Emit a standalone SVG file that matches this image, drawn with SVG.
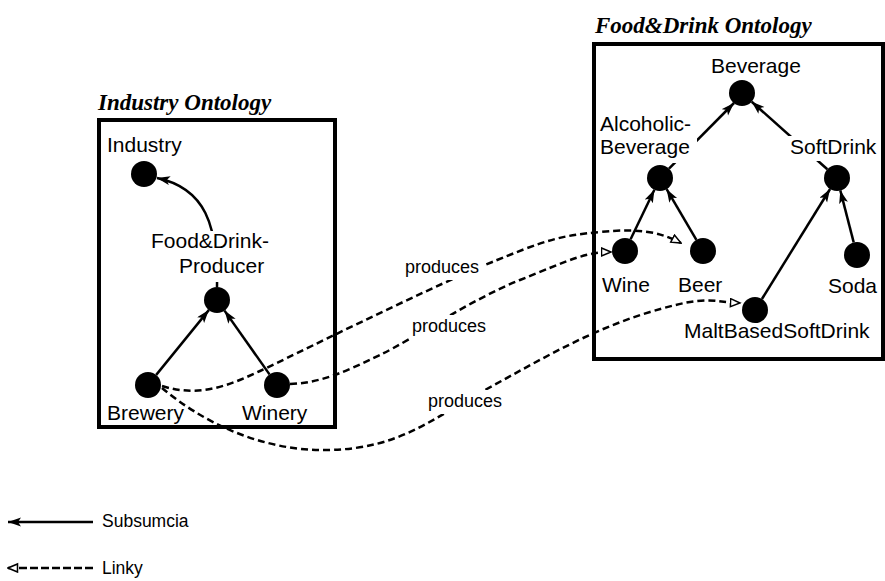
<svg xmlns="http://www.w3.org/2000/svg" width="885" height="581" viewBox="0 0 885 581">
<style>
.box{fill:none;stroke:#000;stroke-width:4}
.title{font-family:"Liberation Serif","Times New Roman",serif;font-weight:bold;font-style:italic;font-size:23px;fill:#000}
.lbl{font-family:"Liberation Sans",Arial,sans-serif;font-size:21px;fill:#000}
.plbl{font-family:"Liberation Sans",Arial,sans-serif;font-size:18px;fill:#000}
.leg{font-family:"Liberation Sans",Arial,sans-serif;font-size:17.5px;fill:#000}
.node{fill:#000}
.bg{fill:#fff}
.sub{fill:none;stroke:#000;stroke-width:2.5;marker-end:url(#solid)}
.link{fill:none;stroke:#000;stroke-width:2.5;stroke-dasharray:7 4;marker-end:url(#open)}
</style>
<defs>
<marker id="solid" markerUnits="userSpaceOnUse" markerWidth="14" markerHeight="10" refX="13" refY="4.5" orient="auto">
<path d="M0,0 L13,4.5 L0,9 L3,4.5 z" fill="#000"/>
</marker>
<marker id="open" markerUnits="userSpaceOnUse" markerWidth="12" markerHeight="11" refX="10.5" refY="5" orient="auto">
<path d="M1,1 L10.5,5 L1,9 z" fill="#fff" stroke="#000" stroke-width="1.5"/>
</marker>
</defs>
<rect width="885" height="581" fill="#fff"/>

<g id="industry-ontology">
<rect class="box" x="99" y="120" width="236" height="307"/>
<text class="title" x="98" y="110">Industry Ontology</text>
</g>
<g id="fooddrink-ontology">
<rect class="box" x="594" y="44" width="289" height="315"/>
<text class="title" x="595" y="33">Food&amp;Drink Ontology</text>
</g>

<g id="connectors">
<path class="sub" d="M217,287 C218,225 205,188 157,178"/>
<path class="sub" d="M156.2,374.9 L208.8,310.1"/>
<path class="sub" d="M269.5,374.4 L224.5,310.6"/>
<path class="sub" d="M669,168.6 L734,103"/>
<path class="sub" d="M827.3,169.3 L751.7,101.7"/>
<path class="sub" d="M630.6,239.3 L654.4,189.7"/>
<path class="sub" d="M696.4,239.8 L666.6,189.2"/>
<path class="sub" d="M761.9,299 L830.1,189"/>
<path class="sub" d="M853.7,242.4 L840.3,190.4"/>
<path class="link" d="M162,386 C200,398 230,385 260,371 S420,292 485,265 S560,236 600,232 S660,232 681,243"/>
<path class="link" d="M290,384 C320,383 345,372 380,355 S470,300 520,280 S585,252 611,252"/>
<path class="link" d="M162,388 C200,420 260,452 330,450 S430,420 485,390 S590,330 650,312 S710,302 740,303"/>
<rect class="bg" x="402" y="256" width="82" height="24"/>
<text class="plbl" x="405" y="273">produces</text>
<rect class="bg" x="409" y="315" width="82" height="24"/>
<text class="plbl" x="412" y="332">produces</text>
<rect class="bg" x="425" y="390" width="82" height="24"/>
<text class="plbl" x="428" y="407">produces</text>
</g>

<g id="node-industry">
<circle class="node" cx="144" cy="174" r="13"/>
<text class="lbl" x="107" y="152">Industry</text>
</g>
<g id="node-fooddrink-producer">
<circle class="node" cx="217" cy="300" r="13"/>
<rect class="bg" x="148" y="231" width="134" height="51"/>
<text class="lbl" x="151" y="248">Food&amp;Drink-</text>
<text class="lbl" x="179" y="273">Producer</text>
</g>
<g id="node-brewery">
<circle class="node" cx="148" cy="385" r="13"/>
<text class="lbl" x="107" y="420">Brewery</text>
</g>
<g id="node-winery">
<circle class="node" cx="277" cy="385" r="13"/>
<text class="lbl" x="242" y="420">Winery</text>
</g>
<g id="node-beverage">
<circle class="node" cx="742" cy="93" r="13"/>
<text class="lbl" x="711" y="73">Beverage</text>
</g>
<g id="node-alcoholic-beverage">
<circle class="node" cx="660" cy="178" r="13"/>
<rect class="bg" x="598" y="116" width="99" height="47"/>
<text class="lbl" x="600" y="131">Alcoholic-</text>
<text class="lbl" x="600" y="154">Beverage</text>
</g>
<g id="node-softdrink">
<circle class="node" cx="837" cy="178" r="13"/>
<rect class="bg" x="788" y="136" width="92" height="25"/>
<text class="lbl" x="790" y="154">SoftDrink</text>
</g>
<g id="node-wine">
<circle class="node" cx="625" cy="251" r="13"/>
<text class="lbl" x="602" y="292">Wine</text>
</g>
<g id="node-beer">
<circle class="node" cx="703" cy="251" r="13"/>
<text class="lbl" x="678" y="292">Beer</text>
</g>
<g id="node-soda">
<circle class="node" cx="857" cy="255" r="13"/>
<text class="lbl" x="828" y="293">Soda</text>
</g>
<g id="node-maltbasedsoftdrink">
<circle class="node" cx="755" cy="310" r="13"/>
<text class="lbl" x="684" y="338">MaltBasedSoftDrink</text>
</g>

<g id="legend">
<path class="sub" d="M93,522 L8,522"/>
<text class="leg" x="102" y="527">Subsumcia</text>
<path class="link" d="M93,568 L8,568" style="stroke-dasharray:8 3"/>
<text class="leg" x="102" y="574">Linky</text>
</g>
</svg>
